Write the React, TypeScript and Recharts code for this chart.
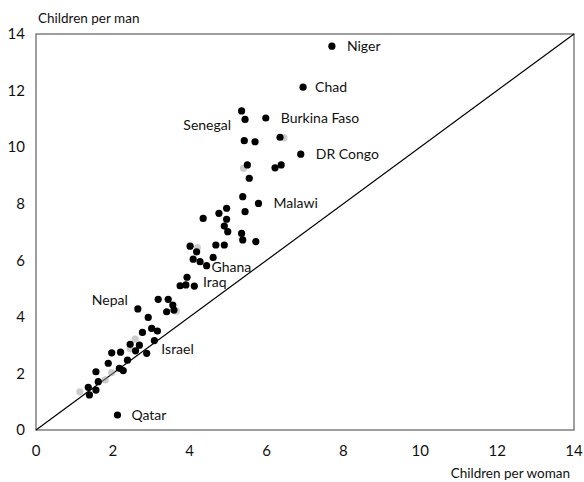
import {
  ScatterChart,
  Scatter,
  XAxis,
  YAxis,
  ReferenceLine,
  ReferenceArea,
} from 'recharts'

// labelled countries: children per woman (x), children per man (y)
const COUNTRIES = ['Niger', 'Chad', 'Burkina Faso', 'DR Congo', 'Senegal', 'Malawi', 'Ghana', 'Iraq', 'Nepal', 'Israel', 'Qatar']
const COUNTRY_WOMAN = [7.70, 6.95, 5.98, 6.89, 5.44, 5.79, 4.44, 3.93, 2.65, 3.08, 2.12]
const COUNTRY_MAN = [13.57, 12.12, 11.03, 9.75, 10.98, 8.01, 5.81, 5.40, 4.28, 3.16, 0.53]

// everyone else
const OTHER_WOMAN = [
  5.35, 5.42, 5.70, 6.35, 5.50, 6.22, 6.38, 5.55, 5.38, 4.96, 4.76, 5.44, 4.35, 4.96,
  4.90, 4.99, 5.35, 5.38, 5.72, 4.68, 4.90, 4.01, 4.18, 4.09, 4.27, 4.61, 3.75, 3.90,
  4.12, 2.92, 3.18, 3.44, 3.56, 3.59, 3.40, 3.01, 3.16, 2.77, 2.45, 2.69, 2.59, 2.88,
  1.97, 2.20, 2.38, 1.88, 2.17, 2.27, 1.56, 1.62, 1.36, 1.56, 1.39,
]
const OTHER_MAN = [
  11.28, 10.23, 10.19, 10.35, 9.37, 9.27, 9.37, 8.90, 8.25, 7.84, 7.66, 7.72, 7.48, 7.45,
  7.21, 7.01, 6.95, 6.72, 6.66, 6.54, 6.54, 6.50, 6.30, 6.04, 5.95, 6.10, 5.10, 5.13,
  5.09, 3.98, 4.62, 4.62, 4.42, 4.24, 4.18, 3.59, 3.50, 3.45, 3.03, 3.00, 2.80, 2.71,
  2.73, 2.75, 2.47, 2.36, 2.18, 2.10, 2.06, 1.71, 1.51, 1.41, 1.24,
]

// faint grey duplicates visible behind some dots
const GHOST_WOMAN = [2.58, 1.97, 1.80, 1.14, 2.45, 5.40, 6.45, 4.20, 3.65]
const GHOST_MAN = [3.21, 2.03, 1.77, 1.35, 2.88, 9.25, 10.33, 6.45, 4.20]

const TICKS = [0, 2, 4, 6, 8, 10, 12, 14]

// where each country name sits relative to its dot
const LABEL_POS: Record<string, { dx: number; dy: number; anchor: 'start' | 'end' }> = {
  Niger: { dx: 15, dy: 5, anchor: 'start' },
  Chad: { dx: 12, dy: 5, anchor: 'start' },
  'Burkina Faso': { dx: 15, dy: 5, anchor: 'start' },
  'DR Congo': { dx: 15, dy: 5, anchor: 'start' },
  Senegal: { dx: -14, dy: 11, anchor: 'end' },
  Malawi: { dx: 15, dy: 5, anchor: 'start' },
  Ghana: { dx: 5, dy: 6, anchor: 'start' },
  Iraq: { dx: 16, dy: 10, anchor: 'start' },
  Nepal: { dx: -10, dy: -4, anchor: 'end' },
  Israel: { dx: 7, dy: 13, anchor: 'start' },
  Qatar: { dx: 14, dy: 5, anchor: 'start' },
}

const FONT = 'Lato, "Open Sans", sans-serif'

const countries = COUNTRIES.map((name, i) => ({ name, x: COUNTRY_WOMAN[i], y: COUNTRY_MAN[i] }))
const others = OTHER_WOMAN.map((x, i) => ({ x, y: OTHER_MAN[i] }))
const ghosts = GHOST_WOMAN.map((x, i) => ({ x, y: GHOST_MAN[i] }))

function Dot(props: any) {
  return <circle cx={props.cx} cy={props.cy} r={3.6} fill="#000" />
}

function GhostDot(props: any) {
  return <circle cx={props.cx} cy={props.cy} r={3.6} fill="#9a9a9a" opacity={0.5} />
}

function CountryDot(props: any) {
  const pos = LABEL_POS[props.payload.name]
  return (
    <g>
      <circle cx={props.cx} cy={props.cy} r={3.6} fill="#000" />
      <text
        x={props.cx + pos.dx}
        y={props.cy + pos.dy}
        textAnchor={pos.anchor}
        fontSize={14}
        fontFamily={FONT}
        fill="#111"
      >
        {props.payload.name}
      </text>
    </g>
  )
}

export default function App() {
  return (
    <div style={{ position: 'absolute', left: 0, top: 0, background: '#fff' }}>
      <ScatterChart
        width={584}
        height={482}
        margin={{ top: 34, right: 10, bottom: 0, left: 8 }}
      >
        <ReferenceArea x1={0} x2={14} y1={0} y2={14} fill="none" stroke="#7f7f7f" strokeWidth={1.5} ifOverflow="visible" />
        <XAxis
          type="number"
          dataKey="x"
          domain={[0, 14]}
          ticks={TICKS}
          tickLine={false}
          axisLine={false}
          height={52}
          tickMargin={9}
          tick={{ fontSize: 15, fill: '#111', fontFamily: FONT }}
          label={{ value: 'Children per woman', position: 'insideBottomRight', offset: 4, fontSize: 13.5, fill: '#111', fontFamily: FONT }}
        />
        <YAxis
          type="number"
          dataKey="y"
          domain={[0, 14]}
          ticks={TICKS}
          tickLine={false}
          axisLine={false}
          width={28}
          tickMargin={5}
          tick={{ fontSize: 15, fill: '#111', fontFamily: FONT }}
          label={{
            content: (p: any) => (
              <text x={p.viewBox.x + p.viewBox.width + 2} y={p.viewBox.y - 11} fontSize={13.5} fill="#111" fontFamily={FONT}>
                Children per man
              </text>
            ),
          }}
        />
        <ReferenceLine
          segment={[{ x: 0, y: 0 }, { x: 14, y: 14 }]}
          stroke="#000"
          strokeWidth={1.2}
        />
        <Scatter data={ghosts} shape={GhostDot} isAnimationActive={false} />
        <Scatter data={others} shape={Dot} isAnimationActive={false} />
        <Scatter data={countries} shape={CountryDot} isAnimationActive={false} />
      </ScatterChart>
    </div>
  )
}
